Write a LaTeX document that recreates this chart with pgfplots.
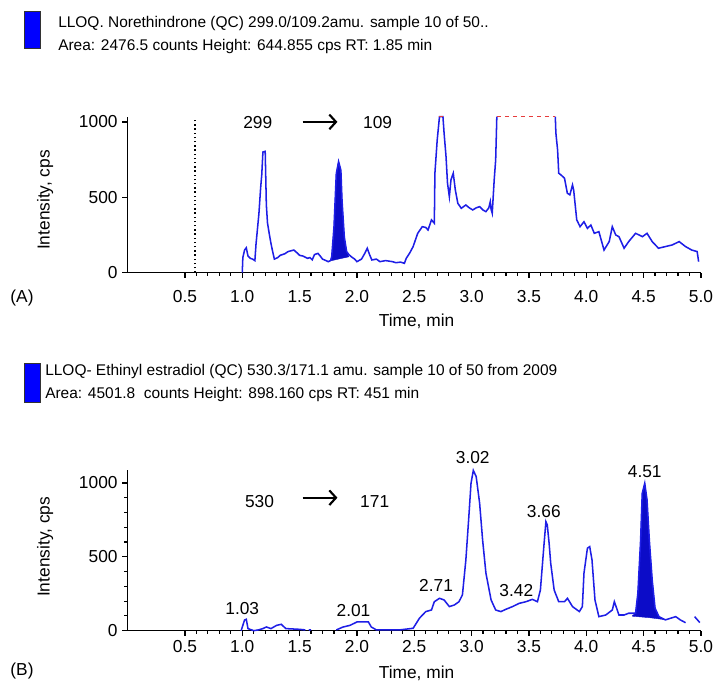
\documentclass[border=0pt]{standalone}
\usepackage{fontspec}
\setmainfont{Liberation Sans}
\usepackage{pgfplots}
\pgfplotsset{compat=1.18}
\usetikzlibrary{arrows.meta}
\definecolor{trace}{RGB}{30,30,230}
\definecolor{peak}{RGB}{12,12,200}
\definecolor{sat}{RGB}{230,60,60}
\pgfplotsset{chrom/.style={
  scale only axis, width=430pt, xmin=0, xmax=5, ymin=0,
  axis x line*=bottom, axis y line*=left,
  axis line style={line width=1pt, black},
  tick align=outside, xtick={0.5,1.0,1.5,2.0,2.5,3.0,3.5,4.0,4.5,5.0}, minor x tick num=4,
  major tick length=4pt, minor tick length=2.5pt,
  every tick/.style={line width=0.9pt, black},
  xticklabel style={/pgf/number format/fixed, /pgf/number format/fixed zerofill, /pgf/number format/precision=1},
  /pgf/number format/assume math mode=true,
  /pgf/number format/1000 sep={},
  ticklabel style={font=\fontsize{13}{15}\selectfont},
  label style={font=\fontsize{13}{15}\selectfont},
  clip=false,
  every axis plot/.append style={line width=1.15pt},
}}
\begin{document}
\begin{tikzpicture}
\path[use as bounding box] (0,0) rectangle (537.75pt,513pt);
% headers
\fill[blue, draw=black!80, line width=0.5pt] (18pt,477pt) rectangle (30pt,504.75pt);
\node[anchor=west, inner sep=0pt, font=\fontsize{11.6}{13}\selectfont] at (43.5pt,495pt) {LLOQ. Norethindrone (QC) 299.0/109.2amu. sample 10 of 50..};
\node[anchor=west, inner sep=0pt, font=\fontsize{11.6}{13}\selectfont] at (43.5pt,477.75pt) {Area: 2476.5 counts Height: 644.855 cps RT: 1.85 min};
\fill[blue, draw=black!80, line width=0.5pt] (18pt,211.5pt) rectangle (30pt,240.75pt);
\node[anchor=west, inner sep=0pt, font=\fontsize{11.6}{13}\selectfont] at (33.75pt,234pt) {LLOQ- Ethinyl estradiol (QC) 530.3/171.1 amu. sample 10 of 50 from 2009};
\node[anchor=west, inner sep=0pt, font=\fontsize{11.6}{13}\selectfont] at (33.75pt,216.75pt) {Area: 4501.8\ \ counts Height: 898.160 cps RT: 451 min};
\node[font=\fontsize{13}{15}\selectfont] at (16.5pt,289.5pt) {(A)};
\node[font=\fontsize{13}{15}\selectfont] at (16.5pt,10pt) {(B)};

% ---------------- Panel A ----------------
\begin{axis}[chrom, at={(95.7pt,308.5pt)}, anchor=south west, height=117pt,
  ymax=1035, ytick={0,500,1000},
  xticklabel style={yshift=-6pt},
  xlabel={Time, min}, ylabel={Intensity, cps},
  xlabel style={at={(axis description cs:0.504,-0.31)}, anchor=center},
  ylabel style={at={(axis description cs:-0.144,0.466)}, anchor=center}]
\addplot[black, dotted, line width=0.9pt] coordinates {(0.587,0) (0.587,1010)};
\addplot[peak, fill=peak, draw=peak, line width=0.3pt] coordinates {
(1.77,80) (1.78,106) (1.80,305) (1.82,658) (1.84,737) (1.86,680) (1.87,480) (1.89,237) (1.91,140) (1.93,105)
(1.85,92) (1.77,78)};
\addplot[trace] coordinates {
(1.00,0) (1.005,100) (1.02,150) (1.035,165) (1.05,110) (1.07,95) (1.09,90) (1.11,80) (1.12,190) (1.145,390)
(1.16,560) (1.17,650) (1.18,800) (1.20,805) (1.21,450) (1.22,330) (1.235,260) (1.25,195) (1.265,140) (1.28,90)
(1.31,100) (1.33,115) (1.37,125) (1.40,140) (1.45,150) (1.48,130) (1.50,115) (1.53,110) (1.57,95) (1.59,100)
(1.61,85) (1.63,120) (1.66,128) (1.68,110) (1.70,90) (1.73,80) (1.75,73) (1.77,80)
(1.78,106) (1.80,305) (1.82,658) (1.84,737) (1.86,680) (1.87,480) (1.89,237) (1.91,140) (1.93,120) (1.95,106)
(1.98,90) (2.00,73) (2.04,90) (2.07,130) (2.09,162) (2.11,120) (2.13,84) (2.17,90) (2.20,73) (2.25,80)
(2.31,73) (2.34,66) (2.38,70) (2.414,62) (2.43,95) (2.46,130) (2.49,173) (2.53,261) (2.57,305) (2.60,300)
(2.62,283) (2.65,350) (2.675,328) (2.68,660) (2.70,880) (2.72,1035) (2.75,1035) (2.76,927) (2.777,770) (2.79,593)
(2.806,504) (2.82,615) (2.84,660) (2.858,549) (2.88,460) (2.91,427) (2.95,449) (2.98,430) (3.01,416) (3.04,430)
(3.07,438) (3.10,415) (3.125,405) (3.15,430) (3.163,471) (3.17,420) (3.18,394) (3.197,615) (3.21,748) (3.22,1035)};
\addplot[trace] coordinates {
(3.73,1035) (3.735,927) (3.75,814) (3.76,660) (3.78,648) (3.81,627) (3.835,527) (3.857,516) (3.88,582) (3.89,549)
(3.917,350) (3.946,305) (3.98,338) (4.01,294) (4.04,316) (4.07,261) (4.11,272) (4.155,150) (4.2,206) (4.227,305)
(4.257,250) (4.285,239) (4.33,162) (4.37,206) (4.43,261) (4.49,239) (4.53,261) (4.575,206) (4.63,162) (4.69,173)
(4.75,184) (4.81,206) (4.866,173) (4.92,150) (4.967,140) (4.98,73)};
\addplot[sat, dashed, line width=1pt] coordinates {(3.22,1035) (3.73,1035)};
\addplot[sat, line width=1pt] coordinates {(2.72,1035) (2.75,1035)};
\node[font=\fontsize{13}{15}\selectfont] at (axis cs:1.135,993) {299};
\draw[-{Straight Barb[length=5pt,width=11pt,line width=1.6pt]}, line width=1.6pt] (axis cs:1.527,1000) -- (axis cs:1.83,1000);
\node[font=\fontsize{13}{15}\selectfont] at (axis cs:2.18,993) {109};
\end{axis}

% ---------------- Panel B ----------------
\begin{axis}[chrom, at={(95.7pt,40pt)}, anchor=south west, height=120.75pt,
  ymax=1090, ytick={0,500,1000}, minor y tick num=4,
  xlabel={Time, min}, ylabel={Intensity, cps},
  xlabel style={at={(axis description cs:0.504,-0.265)}, anchor=center},
  ylabel style={at={(axis description cs:-0.144,0.52)}, anchor=center}]
\addplot[peak, fill=peak, draw=peak, line width=0.3pt] coordinates {
(4.40,100) (4.43,118) (4.45,253) (4.474,614) (4.488,930) (4.51,998) (4.53,885) (4.55,614) (4.575,343) (4.60,152)
(4.634,95) (4.68,75) (4.55,88) (4.40,98)};
\addplot[trace] coordinates {
(0.99,0) (1.02,72) (1.035,77) (1.05,14) (1.10,0) (1.14,5) (1.18,14) (1.21,25) (1.25,14) (1.30,36)
(1.34,43) (1.38,14) (1.50,9) (1.55,5)};
\addplot[trace] coordinates {(1.58,4) (1.60,6)};
\addplot[trace] coordinates {
(1.82,5) (1.88,25) (1.94,36) (2.00,59) (2.10,59) (2.125,25) (2.17,5) (2.37,5) (2.49,16) (2.545,84)
(2.60,129) (2.65,140) (2.675,196) (2.72,219) (2.76,208) (2.806,163) (2.85,174) (2.89,196) (2.92,242) (2.95,479)
(2.974,750) (2.995,998) (3.015,1085) (3.04,1043) (3.07,863) (3.096,614) (3.125,389) (3.17,208) (3.21,140) (3.255,129)
(3.30,145) (3.357,163) (3.415,185) (3.474,196) (3.53,212) (3.574,196) (3.60,275) (3.63,569) (3.648,738) (3.66,716)
(3.676,592) (3.69,456) (3.72,275) (3.76,196) (3.81,196) (3.836,219) (3.88,163) (3.94,129) (3.966,163) (3.98,389)
(4.01,558) (4.03,569) (4.05,479) (4.076,208) (4.11,95) (4.17,106) (4.227,140) (4.245,196) (4.26,163) (4.285,106)
(4.33,106) (4.37,118) (4.43,118) (4.45,253) (4.474,614) (4.488,930) (4.51,998) (4.53,885) (4.55,614) (4.575,343)
(4.60,152) (4.634,95) (4.69,73) (4.735,84) (4.78,95) (4.82,73) (4.866,54)};
\addplot[trace] coordinates {(4.945,95) (4.99,55)};
\node[font=\fontsize{13}{15}\selectfont] at (axis cs:1.15,873) {530};
\draw[-{Straight Barb[length=5pt,width=11pt,line width=1.6pt]}, line width=1.6pt] (axis cs:1.527,900) -- (axis cs:1.83,900);
\node[font=\fontsize{13}{15}\selectfont] at (axis cs:2.155,873) {171};
\node[font=\fontsize{13}{15}\selectfont] at (axis cs:1.0,152) {1.03};
\node[font=\fontsize{13}{15}\selectfont] at (axis cs:1.97,133) {2.01};
\node[font=\fontsize{13}{15}\selectfont] at (axis cs:2.69,309) {2.71};
\node[font=\fontsize{13}{15}\selectfont] at (axis cs:3.01,1174) {3.02};
\node[font=\fontsize{13}{15}\selectfont] at (axis cs:3.39,271) {3.42};
\node[font=\fontsize{13}{15}\selectfont] at (axis cs:3.63,806) {3.66};
\node[font=\fontsize{13}{15}\selectfont] at (axis cs:4.51,1077) {4.51};
\end{axis}
\end{tikzpicture}
\end{document}
